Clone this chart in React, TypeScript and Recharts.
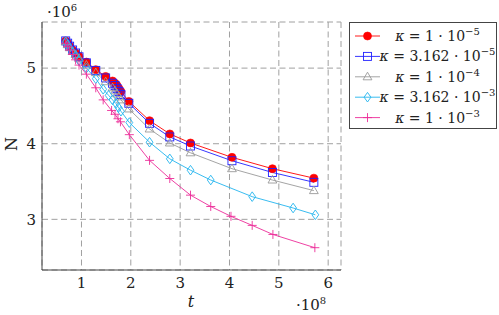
import React from 'react';
import { LineChart, Line, XAxis, YAxis, CartesianGrid } from 'recharts';

// time values (units of 1e8)
const tMain = [0.68, 0.72, 0.76, 0.82, 0.88, 0.95, 1.1, 1.29, 1.49, 1.63, 1.68, 1.72, 1.76, 1.8, 1.96, 2.38, 2.79, 3.21, 4.05, 4.87, 5.71];
const tCyan = [0.68, 0.72, 0.76, 0.82, 0.88, 0.95, 1.1, 1.29, 1.44, 1.55, 1.63, 1.7, 1.75, 1.8, 1.97, 2.38, 2.79, 3.21, 3.62, 4.46, 5.29, 5.74];
const tMag = [0.68, 0.72, 0.76, 0.82, 0.88, 0.95, 1.1, 1.29, 1.44, 1.61, 1.68, 1.74, 1.79, 1.97, 2.38, 2.79, 3.21, 3.62, 4.03, 4.46, 4.88, 5.73];

// N values (units of 1e6)
const nK1e5 = [5.36, 5.33, 5.29, 5.24, 5.2, 5.155, 5.08, 4.98, 4.89, 4.83, 4.8, 4.77, 4.73, 4.69, 4.56, 4.305, 4.13, 4.01, 3.82, 3.67, 3.545];
const nK3e5 = [5.36, 5.33, 5.29, 5.24, 5.2, 5.15, 5.07, 4.97, 4.87, 4.8, 4.77, 4.73, 4.69, 4.65, 4.535, 4.27, 4.09, 3.97, 3.775, 3.62, 3.49];
const nK1e4 = [5.35, 5.31, 5.27, 5.22, 5.18, 5.13, 5.04, 4.94, 4.82, 4.74, 4.7, 4.66, 4.62, 4.58, 4.46, 4.195, 4.01, 3.88, 3.67, 3.52, 3.38];
const nK3e3 = [5.35, 5.31, 5.27, 5.21, 5.16, 5.1, 5.0, 4.86, 4.72, 4.64, 4.58, 4.53, 4.48, 4.43, 4.28, 4.02, 3.8, 3.65, 3.52, 3.3, 3.15, 3.06];
const nK1e3 = [5.33, 5.29, 5.24, 5.18, 5.11, 5.04, 4.92, 4.74, 4.58, 4.44, 4.39, 4.33, 4.29, 4.12, 3.78, 3.54, 3.32, 3.17, 3.04, 2.92, 2.8, 2.625];

const xTicks = [1, 2, 3, 4, 5, 6];
const yTicks = [3, 4, 5];

const legendMantissa = ['1', '3.162', '1', '3.162', '1'];
const legendExp = ['−5', '−5', '−4', '−3', '−3'];

const colors = ['#ff0000', '#2020ff', '#9a9a9a', '#22b4ee', '#ec2c98'];
const shapes = ['circle', 'square', 'triangle', 'diamond', 'plus'];

const toRows = (ts: number[], ns: number[]) => ts.map((t, i) => ({ t, n: ns[i] }));

const series = [
  toRows(tMain, nK1e5),
  toRows(tMain, nK3e5),
  toRows(tMain, nK1e4),
  toRows(tCyan, nK3e3),
  toRows(tMag, nK1e3),
];

function Marker({ cx, cy, shape, color }: { cx: number; cy: number; shape: string; color: string }) {
  if (cx == null || cy == null) return null;
  switch (shape) {
    case 'circle':
      return <circle cx={cx} cy={cy} r={4} fill={color} stroke={color} strokeWidth={0.6} />;
    case 'square':
      return <rect x={cx - 4} y={cy - 4} width={8} height={8} fill="none" stroke={color} strokeWidth={0.9} />;
    case 'triangle':
      return <polygon points={`${cx},${cy - 4.6} ${cx + 4.4},${cy + 3} ${cx - 4.4},${cy + 3}`} fill="none" stroke={color} strokeWidth={0.9} />;
    case 'diamond':
      return <polygon points={`${cx},${cy - 4.8} ${cx + 3.4},${cy} ${cx},${cy + 4.8} ${cx - 3.4},${cy}`} fill="none" stroke={color} strokeWidth={0.9} />;
    case 'plus':
      return (
        <g stroke={color} strokeWidth={0.9}>
          <line x1={cx - 4.5} y1={cy} x2={cx + 4.5} y2={cy} />
          <line x1={cx} y1={cy - 4.5} x2={cx} y2={cy + 4.5} />
        </g>
      );
    default:
      return null;
  }
}

const FONT = 'DejaVu Serif';
const textStyle = { fontFamily: FONT };

export default function App() {
  return (
    <div style={{ position: 'absolute', left: 0, top: 0, width: 499, height: 315, background: '#fff', fontFamily: FONT }}>
      <LineChart
        width={499}
        height={315}
        margin={{ top: 22, right: 158, bottom: 15, left: 0 }}
        style={{ position: 'absolute', left: 0, top: 0 }}
      >
        <CartesianGrid xAxisId="b" yAxisId="l" stroke="#a0a0a0" strokeDasharray="6 3.5" strokeWidth={1} />
        <XAxis
          xAxisId="b"
          type="number"
          dataKey="t"
          domain={[0.2, 6.26]}
          ticks={xTicks}
          allowDataOverflow
          tickLine={false}
          tickSize={0}
          tickMargin={7}
          height={30}
          axisLine={{ stroke: '#444', strokeWidth: 1 }}
          tick={{ fontSize: 15, fill: '#222', style: textStyle }}
        />
        <XAxis xAxisId="top" orientation="top" type="number" domain={[0.2, 6.26]} height={0} tick={false} tickLine={false} axisLine={{ stroke: '#444', strokeWidth: 1 }} />
        <YAxis
          yAxisId="l"
          type="number"
          domain={[2.33, 5.61]}
          ticks={yTicks}
          allowDataOverflow
          width={42}
          tickLine={false}
          tickSize={0}
          tickMargin={6}
          axisLine={{ stroke: '#444', strokeWidth: 1 }}
          tick={{ fontSize: 15, fill: '#222', style: textStyle }}
        />
        <YAxis yAxisId="r" orientation="right" type="number" domain={[2.33, 5.61]} width={0} tick={false} tickLine={false} axisLine={{ stroke: '#444', strokeWidth: 1 }} />
        {series.map((d, i) => (
          <Line
            key={i}
            xAxisId="b"
            yAxisId="l"
            data={d}
            dataKey="n"
            type="linear"
            stroke={colors[i]}
            strokeWidth={0.9}
            isAnimationActive={false}
            activeDot={false}
            dot={(p: any) => <Marker key={`m${i}-${p.index}`} cx={p.cx} cy={p.cy} shape={shapes[i]} color={colors[i]} />}
          />
        ))}
      </LineChart>
      <svg width={499} height={315} style={{ position: 'absolute', left: 0, top: 0, pointerEvents: 'none', fontFamily: FONT }}>
        {/* axis labels */}
        <text x={191} y={307} fontSize={16} fontStyle="italic" textAnchor="middle" fill="#222" style={textStyle}>t</text>
        <text x={17} y={144} fontSize={16} textAnchor="middle" fill="#222" transform="rotate(-90 17 144)" style={textStyle}>N</text>
        <text x={47} y={17} fontSize={15} fill="#222" style={textStyle}>·10<tspan dy={-6} fontSize={10}>6</tspan></text>
        <text x={296} y={310} fontSize={15} fill="#222" style={textStyle}>·10<tspan dy={-6} fontSize={10}>8</tspan></text>
        {/* legend */}
        <rect x={349.5} y={22.5} width={147} height={106} fill="#fff" stroke="#444" strokeWidth={1} />
        {legendMantissa.map((m, i) => {
          const y = 36 + i * 20.4;
          return (
            <g key={i}>
              <line x1={355} y1={y} x2={380} y2={y} stroke={colors[i]} strokeWidth={0.9} />
              <Marker cx={367.5} cy={y} shape={shapes[i]} color={colors[i]} />
              <text x={437.5} y={y + 5} fontSize={14} textAnchor="middle" fill="#222" style={textStyle}>
                <tspan fontStyle="italic">κ</tspan> = {m} · 10<tspan dy={-6} fontSize={10}>{legendExp[i]}</tspan>
              </text>
            </g>
          );
        })}
      </svg>
    </div>
  );
}
